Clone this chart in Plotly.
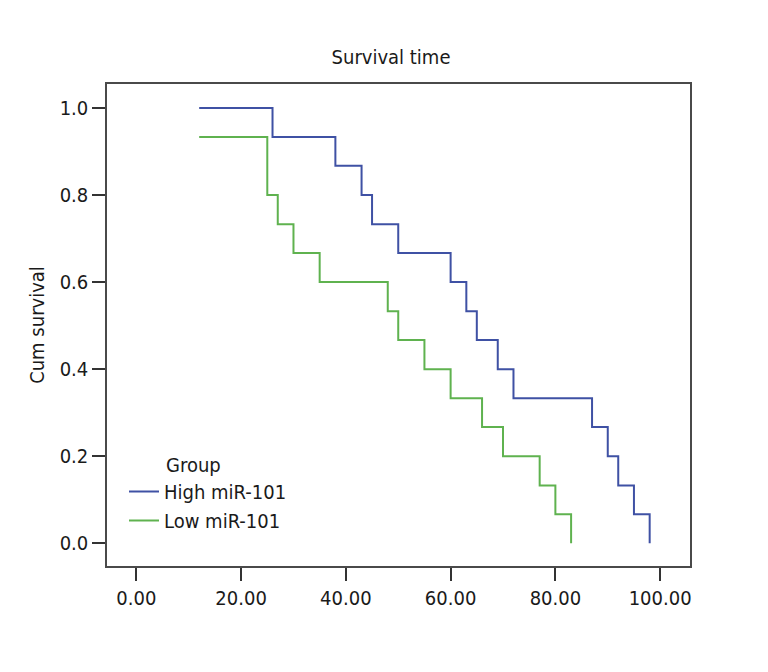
import plotly.graph_objects as go

# ---- data ----
high_time = [12, 26, 38, 43, 45, 50, 60, 63, 65, 69, 72, 87, 90, 92, 95, 98]
high_surv = [1.0, 0.933, 0.867, 0.8, 0.733, 0.667, 0.6, 0.533, 0.467, 0.4,
             0.333, 0.267, 0.2, 0.133, 0.067, 0.0]
low_time = [12, 25, 27, 30, 35, 48, 50, 55, 60, 66, 70, 77, 80, 83]
low_surv = [0.933, 0.8, 0.733, 0.667, 0.6, 0.533, 0.467, 0.4, 0.333, 0.267,
            0.2, 0.133, 0.067, 0.0]
x_ticks = [0, 20, 40, 60, 80, 100]
y_ticks = [0.0, 0.2, 0.4, 0.6, 0.8, 1.0]
group_names = ["High miR-101", "Low miR-101"]

FONT = "DejaVu Sans Condensed, Liberation Sans Narrow, Roboto Condensed, sans-serif"
BLUE = "#3f51a4"
GREEN = "#5fb24f"
TXT = "#1a1a1a"

# page body has an 8px margin, so the figure is 8px smaller than the window
W, H = 760, 664
ML, MR, MT, MB = 99, 78, 76, 106
PW, PH = W - ML - MR, H - MT - MB

fig = go.Figure()
fig.add_trace(go.Scatter(x=high_time, y=high_surv, mode="lines", name=group_names[0],
                         line=dict(color=BLUE, width=2, shape="hv")))
fig.add_trace(go.Scatter(x=low_time, y=low_surv, mode="lines", name=group_names[1],
                         line=dict(color=GREEN, width=2, shape="hv")))

axis_common = dict(showline=True, linecolor="#4a4a4a", linewidth=1.5, mirror=True,
                   ticks="outside", ticklen=13, tickwidth=1.5, tickcolor="#333333",
                   showgrid=False, zeroline=False,
                   tickfont=dict(family=FONT, size=20, color=TXT))

fig.update_layout(
    width=W, height=H,
    margin=dict(l=ML, r=MR, t=MT, b=MB),
    paper_bgcolor="white", plot_bgcolor="white",
    font=dict(family=FONT, size=20, color=TXT),
    title=dict(text="Survival time", x=383 / W, xanchor="center", y=1 - 49 / H, yanchor="middle",
               font=dict(family=FONT, size=20, color=TXT)),
    xaxis=dict(range=[-5.6, 105.7], tickvals=x_ticks, tickformat=".2f", **axis_common),
    yaxis=dict(range=[-0.052, 1.055], tickvals=y_ticks, tickformat=".1f",
               title=dict(text="Cum survival", standoff=10,
                          font=dict(family=FONT, size=20, color=TXT)),
               **axis_common),
    showlegend=True,
    legend=dict(x=(19 - 2) / PW, xanchor="left",
                y=(H - MB - 438) / PH, yanchor="top",
                bgcolor="rgba(0,0,0,0)", borderwidth=0,
                title=dict(text="       Group", font=dict(family=FONT, size=20, color=TXT)),
                font=dict(family=FONT, size=20, color=TXT),
                itemwidth=30, tracegroupgap=0),
)

fig.write_html("out.html")
